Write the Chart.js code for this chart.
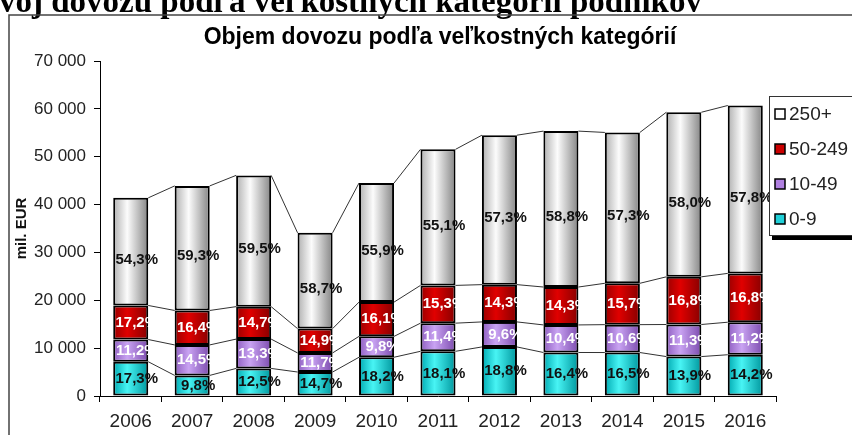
<!DOCTYPE html>
<html>
<head>
<meta charset="utf-8">
<script src="https://cdn.jsdelivr.net/npm/chart.js@4.4.0/dist/chart.umd.min.js"></script>
<style>
  html, body { margin: 0; padding: 0; background: #fff; }
</style>
</head>
<body>
<canvas id="chart" width="852" height="435"></canvas>
<script>
const years = ["2006", "2007", "2008", "2009", "2010", "2011", "2012", "2013", "2014", "2015", "2016"];
const yTickLabels = ["0", "10 000", "20 000", "30 000", "40 000", "50 000", "60 000", "70 000"];

// mil. EUR per size category
const micro = [7160, 4300, 5760, 5010, 8100, 9340, 10250, 9090, 9080, 8240, 8620];
const small = [4640, 6370, 6130, 3990, 4360, 5880, 5230, 5760, 5830, 6700, 6800];
const medium = [7120, 7200, 6780, 5080, 7160, 7890, 7790, 7920, 8640, 9960, 10200];
const large = [22480, 26030, 27430, 20020, 24880, 28430, 31230, 32580, 31520, 34390, 35080];

const microPct = ["17,3%", "9,8%", "12,5%", "14,7%", "18,2%", "18,1%", "18,8%", "16,4%", "16,5%", "13,9%", "14,2%"];
const smallPct = ["11,2%", "14,5%", "13,3%", "11,7%", "9,8%", "11,4%", "9,6%", "10,4%", "10,6%", "11,3%", "11,2%"];
const mediumPct = ["17,2%", "16,4%", "14,7%", "14,9%", "16,1%", "15,3%", "14,3%", "14,3%", "15,7%", "16,8%", "16,8%"];
const largePct = ["54,3%", "59,3%", "59,5%", "58,7%", "55,9%", "55,1%", "57,3%", "58,8%", "57,3%", "58,0%", "57,8%"];

const FONT = '"Liberation Sans", Arial, sans-serif';
const BAR_PCT = 0.57;

// shaded "cylinder" fill across each bar
function cylinder(stops) {
  return (ctx) => {
    const chart = ctx.chart;
    const x = chart.scales.x;
    if (!x || ctx.dataIndex === undefined) return stops[1];
    const cx = x.getPixelForValue(ctx.dataIndex);
    const w = (x.width / years.length) * BAR_PCT;
    if (!isFinite(cx) || !isFinite(w) || w <= 0) return stops[1];
    const g = chart.ctx.createLinearGradient(cx - w / 2, 0, cx + w / 2, 0);
    g.addColorStop(0, stops[0]);
    g.addColorStop(0.4, stops[1]);
    g.addColorStop(1, stops[2]);
    return g;
  };
}

const series = [
  { label: "0-9", data: micro, pct: microPct, txt: "#111", swatch: "#20d0d8", stops: ["#00aab2", "#48f4f4", "#00979e"] },
  { label: "10-49", data: small, pct: smallPct, txt: "#fff", swatch: "#b080e0", stops: ["#8e5ec0", "#c9a3f2", "#7c4cae"] },
  { label: "50-249", data: medium, pct: mediumPct, txt: "#fff", swatch: "#cc0000", stops: ["#9a0000", "#e00000", "#870000"] },
  { label: "250+", data: large, pct: largePct, txt: "#111", swatch: "#ffffff", stops: ["#b0b0b0", "#fcfcfc", "#858585"] },
];

const pageDecor = {
  id: "pageDecor",
  beforeDraw(chart) {
    const c = chart.ctx;
    c.save();
    c.fillStyle = "#fff";
    c.fillRect(0, 0, chart.width, chart.height);
    // heading of the document, cut at the top
    c.fillStyle = "#000";
    c.font = 'bold 33px "Liberation Serif", "Times New Roman", serif';
    c.textBaseline = "alphabetic";
    const cut = c.measureText("Vý").width;
    c.fillText("Vývoj dovozu podľa veľkostných kategórií podnikov", -cut - 1, 12);
    // frame of the chart object
    c.strokeStyle = "#444";
    c.lineWidth = 1.5;
    c.beginPath();
    c.moveTo(9, chart.height + 2);
    c.lineTo(9, 15);
    c.lineTo(chart.width + 2, 15);
    c.stroke();
    // chart title
    c.font = "bold 23px " + FONT;
    c.textAlign = "center";
    c.textBaseline = "middle";
    c.fillText("Objem dovozu podľa veľkostných kategórií", 440, 38);
    c.restore();
  },
};

const seriesLines = {
  id: "seriesLines",
  beforeDatasetsDraw(chart) {
    const c = chart.ctx;
    c.save();
    c.strokeStyle = "#333";
    c.lineWidth = 1;
    chart.data.datasets.forEach((ds, di) => {
      const bars = chart.getDatasetMeta(di).data;
      for (let i = 0; i < bars.length - 1; i++) {
        const a = bars[i], b = bars[i + 1];
        c.beginPath();
        c.moveTo(a.x + a.width / 2, a.y);
        c.lineTo(b.x - b.width / 2, b.y);
        c.stroke();
      }
    });
    c.restore();
  },
};

const segmentLabels = {
  id: "segmentLabels",
  afterDatasetsDraw(chart) {
    const c = chart.ctx;
    c.save();
    c.font = "bold 15px " + FONT;
    c.textAlign = "center";
    c.textBaseline = "middle";
    chart.data.datasets.forEach((ds, di) => {
      const s = series[di];
      chart.getDatasetMeta(di).data.forEach((bar, i) => {
        const mid = (bar.y + bar.base) / 2 + (di === 3 ? 8 : 0);
        c.fillStyle = s.txt;
        c.fillText(s.pct[i], bar.x + 6, mid);
      });
    });
    c.restore();
  },
};

const boxLegend = {
  id: "boxLegend",
  afterDraw(chart) {
    const c = chart.ctx;
    const x0 = 769, y0 = 96, y1 = 235;
    c.save();
    c.fillStyle = "#000";
    c.fillRect(772, y1, 90, 5);
    c.fillStyle = "#fff";
    c.fillRect(x0, y0, 90, y1 - y0);
    c.strokeStyle = "#333";
    c.lineWidth = 1;
    c.strokeRect(x0 + 0.5, y0 + 0.5, 90, y1 - y0);
    c.font = "19px " + FONT;
    c.textBaseline = "middle";
    const order = [3, 2, 1, 0];
    order.forEach((di, k) => {
      const s = series[di];
      const cy = 114 + k * 35;
      c.fillStyle = s.swatch;
      c.fillRect(775, cy - 5, 10, 10);
      c.strokeStyle = "#000";
      c.lineWidth = 1.5;
      c.strokeRect(775, cy - 5, 10, 10);
      c.fillStyle = "#222";
      c.fillText(s.label, 789, cy + 1);
    });
    c.restore();
  },
};

new Chart(document.getElementById("chart"), {
  type: "bar",
  data: {
    labels: years,
    datasets: series.map((s) => ({
      label: s.label,
      data: s.data,
      backgroundColor: cylinder(s.stops),
      borderColor: "#000",
      borderWidth: 2,
      borderSkipped: false,
      barPercentage: BAR_PCT,
      categoryPercentage: 1,
    })),
  },
  options: {
    responsive: false,
    animation: false,
    devicePixelRatio: 1,
    layout: { padding: { top: 61, right: 76, left: 0, bottom: 0 } },
    plugins: {
      legend: { display: false },
      title: { display: false },
      tooltip: { enabled: false },
    },
    scales: {
      x: {
        stacked: true,
        afterFit: (scale) => { scale.height = 39; },
        grid: { display: true, drawOnChartArea: false, drawTicks: true, tickLength: 6, color: "#000", offset: true },
        border: { color: "#000", width: 1 },
        ticks: { color: "#222", font: { family: FONT, size: 19 }, padding: 8, maxRotation: 0 },
      },
      y: {
        stacked: true,
        min: 0,
        max: 70000,
        afterFit: (scale) => { scale.width = 100; },
        grid: { display: true, drawOnChartArea: false, drawTicks: true, tickLength: 6, color: "#000" },
        border: { color: "#000", width: 1 },
        ticks: {
          stepSize: 10000,
          color: "#222",
          font: { family: FONT, size: 17 },
          padding: 8,
          callback: (v, i) => yTickLabels[i],
        },
        title: {
          display: true,
          text: "mil. EUR",
          color: "#111",
          font: { family: FONT, size: 15, weight: "bold" },
          padding: { top: 13, bottom: 0 },
        },
      },
    },
  },
  plugins: [pageDecor, seriesLines, segmentLabels, boxLegend],
});
</script>
</body>
</html>
